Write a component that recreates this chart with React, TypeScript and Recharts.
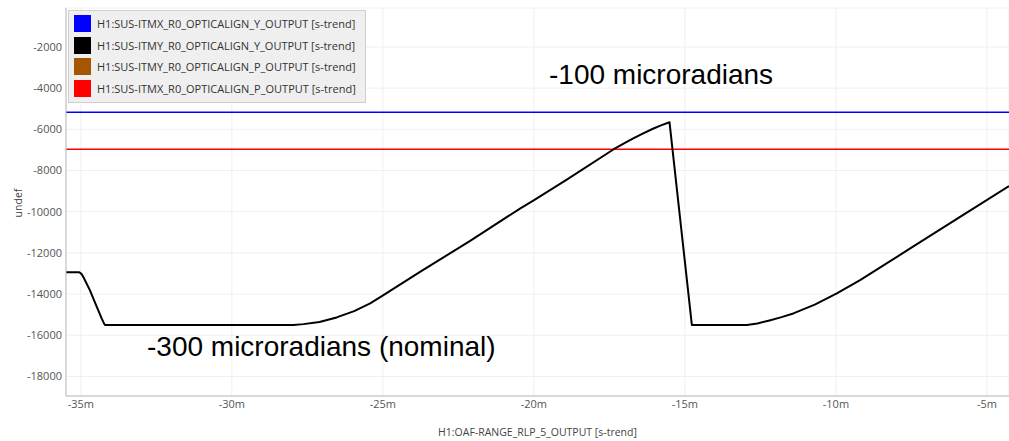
import React from 'react';
import { LineChart, Line, XAxis, YAxis, CartesianGrid, Label } from 'recharts';

// time in minutes (relative), values in counts
const blackTimes = [
  -35.49, -35.05, -34.98, -34.92, -34.7, -34.47, -34.31, -34.24, -34.2,
  -27.96, -27.63, -27.1, -26.53, -25.95, -25.42, -24.98, -23.77, -22.11, -20.46, -20.02,
  -18.91, -17.37, -17.0, -16.71, -16.38, -16.04, -15.77, -15.51,
  -14.77, -12.95, -12.6, -12.2, -11.8, -11.41, -10.7, -9.97, -9.2, -7.54, -5.89, -4.27,
];
const blackValues = [
  -12940, -12940, -13020, -13160, -13810, -14620, -15180, -15400, -15500,
  -15500, -15460, -15360, -15135, -14830, -14455, -14053, -12921, -11420, -9850, -9460,
  -8440, -6980, -6670, -6446, -6200, -5961, -5800, -5655,
  -15500, -15500, -15430, -15280, -15120, -14941, -14510, -13970, -13324, -11786, -10252, -8762,
];
const blueTimes = [-35.49, -4.27];
const blueValues = [-5170, -5170];
const redTimes = [-35.49, -4.27];
const redValues = [-6970, -6970];

const xTicks = [-35, -30, -25, -20, -15, -10, -5];
const yTicks = [-18000, -16000, -14000, -12000, -10000, -8000, -6000, -4000, -2000];

const legendNames = [
  'H1:SUS-ITMX_R0_OPTICALIGN_Y_OUTPUT [s-trend]',
  'H1:SUS-ITMY_R0_OPTICALIGN_Y_OUTPUT [s-trend]',
  'H1:SUS-ITMY_R0_OPTICALIGN_P_OUTPUT [s-trend]',
  'H1:SUS-ITMX_R0_OPTICALIGN_P_OUTPUT [s-trend]',
];
const legendColors = ['#0000ff', '#000000', '#a65600', '#ff0000'];

const annotations = ['-100 microradians', '-300 microradians (nominal)'];

const toData = (ts: number[], vs: number[]) => ts.map((t, i) => ({ t, v: vs[i] }));

export default function App() {
  const blackData = toData(blackTimes, blackValues);
  const blueData = toData(blueTimes, blueValues);
  const redData = toData(redTimes, redValues);
  const tickStyle = { fontSize: 11, fill: '#555', fontFamily: 'Open Sans' };
  return (
    <div style={{ position: 'absolute', left: 0, top: 0, width: 1009, height: 441, background: '#fff', fontFamily: 'Open Sans' }}>
      <LineChart width={1009} height={441} margin={{ top: 8, right: 0, bottom: 0, left: 0 }}>
        <CartesianGrid stroke="#efefef" strokeWidth={1} />
        <XAxis
          dataKey="t"
          type="number"
          domain={[-35.49, -4.27]}
          ticks={xTicks}
          allowDataOverflow
          tickFormatter={(v: number) => `${v}m`}
          height={45}
          tickLine={false}
          tickSize={3}
          tickMargin={1}
          stroke="#bbb"
          tick={tickStyle}
        >
          <Label
            value="H1:OAF-RANGE_RLP_5_OUTPUT [s-trend]"
            position="insideBottom"
            offset={5}
            style={{ fontSize: 10.5, fill: '#444', fontFamily: 'Open Sans' }}
          />
        </XAxis>
        <YAxis
          type="number"
          domain={[-18950, -110]}
          ticks={yTicks}
          allowDataOverflow
          width={66}
          tickLine={false}
          tickSize={3}
          tickMargin={1}
          stroke="#bbb"
          tick={tickStyle}
        />
        <Line data={blueData} dataKey="v" stroke={legendColors[0]} strokeWidth={1.6} dot={false} isAnimationActive={false} type="linear" />
        <Line data={redData} dataKey="v" stroke={legendColors[3]} strokeWidth={1.6} dot={false} isAnimationActive={false} type="linear" />
        <Line data={blackData} dataKey="v" stroke={legendColors[1]} strokeWidth={2} dot={false} isAnimationActive={false} type="linear" strokeLinejoin="round" />
      </LineChart>
      <div
        style={{
          position: 'absolute', left: 68, top: 10, width: 296, height: 89,
          background: '#efefef', border: '1px solid #cfcfcf', boxSizing: 'content-box',
          paddingTop: 2,
        }}
      >
        {legendNames.map((n, i) => (
          <div key={n} style={{ display: 'flex', alignItems: 'center', height: 21.5, paddingLeft: 5 }}>
            <div style={{ width: 17, height: 17, background: legendColors[i], marginRight: 6 }} />
            <span style={{ fontSize: 11, color: '#333', whiteSpace: 'nowrap' }}>{n}</span>
          </div>
        ))}
      </div>
      <svg width={1009} height={441} style={{ position: 'absolute', left: 0, top: 0, pointerEvents: 'none' }}>
        <text x={18} y={203} transform="rotate(-90 18 203)" textAnchor="middle" dominantBaseline="central"
          style={{ fontSize: 10.5, fill: '#444', fontFamily: 'Open Sans' }}>undef</text>
        <text x={549} y={84}
          style={{ fontSize: 28, fill: '#000', fontFamily: 'Liberation Sans' }}>{annotations[0]}</text>
        <text x={147} y={356}
          style={{ fontSize: 28, fill: '#000', fontFamily: 'Liberation Sans' }}>{annotations[1]}</text>
      </svg>
    </div>
  );
}
